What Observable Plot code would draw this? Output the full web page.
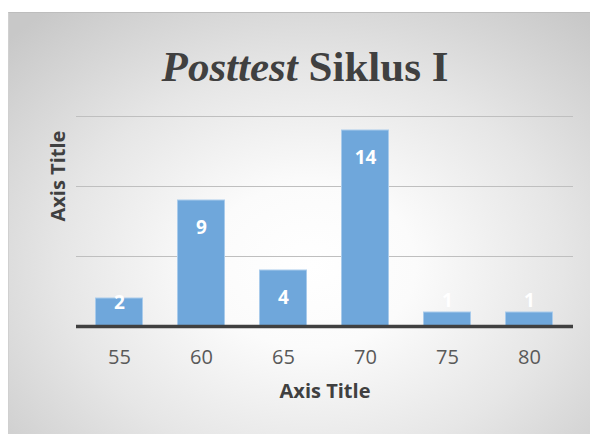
<!DOCTYPE html>
<html>
<head>
<meta charset="utf-8">
<script src="https://cdn.jsdelivr.net/npm/d3@7"></script>
<script src="https://cdn.jsdelivr.net/npm/@observablehq/plot@0.6"></script>
<style>
  html, body { margin: 0; padding: 0; background: #ffffff; }
  #wrap { position: relative; width: 590px; height: 434px; overflow: hidden; }
  #bg { position: absolute; left: 8px; top: 12px; width: 582px; height: 422px;
        background: radial-gradient(ellipse 72% 78% at 52% 60%, #ffffff 0%, #fbfbfb 25%, #e6e6e6 60%, #c8c8c8 100%);
        border-top: 1px solid #bdbdbd; border-left: 1px solid #d0d0d0; box-sizing: border-box; }
  #title { position: absolute; left: 14px; width: 582px; top: 45px; text-align: center;
           font-family: "Liberation Serif", "DejaVu Serif", serif; font-weight: bold; font-size: 43px;
           color: #404040; line-height: 1; }
  #chart { position: absolute; left: 0; top: 0; }
</style>
</head>
<body>
<div id="wrap">
  <div id="bg"></div>
  <div id="title"><i>Posttest</i> Siklus I</div>
  <div id="chart"></div>
</div>
<script>
const categories = ["55", "60", "65", "70", "75", "80"];
const counts = [2, 9, 4, 14, 1, 1];
const gridValues = [5, 10, 15];
const xTitle = "Axis Title";
const yTitle = "Axis Title";

const data = categories.map((c, i) => ({cat: c, count: counts[i]}));
const font = "'Open Sans', 'Noto Sans', sans-serif";

const chart = Plot.plot({
  width: 590,
  height: 434,
  marginLeft: 76,
  marginRight: 17,
  marginTop: 116,
  marginBottom: 108,
  style: {background: "transparent", fontFamily: font},
  x: {domain: categories, paddingInner: 0.41, paddingOuter: 0.205, axis: null},
  y: {domain: [0, 15], axis: null},
  marks: [
    Plot.ruleY(gridValues, {stroke: "#bfbfbf", strokeWidth: 1.2}),
    Plot.barY(data, {x: "cat", y: "count", fill: "#6fa7db", stroke: "#a9cbeb", strokeWidth: 1, insetLeft: 0.5, insetRight: 0.5}),
    Plot.ruleY([0], {stroke: "#404040", strokeWidth: 3.5}),
    Plot.text(data.filter(d => d.count >= 4), {x: "cat", y: "count", text: d => String(d.count), dy: 27, fill: "white", fontWeight: "bold", fontSize: 19}),
    Plot.text(data.filter(d => d.count >= 2 && d.count < 4), {x: "cat", y: "count", text: d => String(d.count), dy: 4, fill: "white", fontWeight: "bold", fontSize: 19}),
    Plot.text(data.filter(d => d.count < 2), {x: "cat", y: "count", text: d => String(d.count), dy: -12, fill: "white", fontWeight: "bold", fontSize: 19}),
    Plot.text(categories, {x: d => d, frameAnchor: "bottom", dy: 37, fontSize: 20, fill: "#595959"}),
    Plot.text([xTitle], {frameAnchor: "bottom", dy: 71, fontSize: 20, fontWeight: "bold", fill: "#404040"}),
    Plot.text([yTitle], {frameAnchor: "left", dx: -18, rotate: -90, fontSize: 20, fontWeight: "bold", fill: "#404040"})
  ]
});
document.getElementById("chart").appendChild(chart);
</script>
</body>
</html>
